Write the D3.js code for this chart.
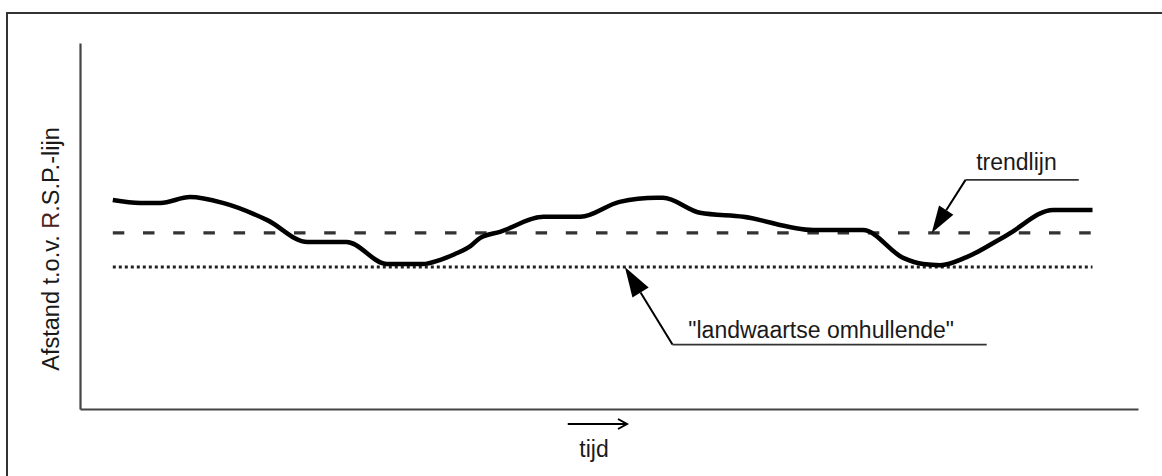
<!DOCTYPE html>
<html>
<head>
<meta charset="utf-8">
<script src="https://cdn.jsdelivr.net/npm/d3@7/dist/d3.min.js"></script>
<style>
  html, body { margin: 0; padding: 0; background: #fff; }
  svg { display: block; }
  text { font-family: "Liberation Sans", Arial, sans-serif; fill: #1a1a1a; }
</style>
</head>
<body>
<svg id="chart" width="1162" height="476"></svg>
<script>
// ---- data (time index 0..100, distance 0..100) ----
const timeValues = [3.1, 5.7, 7.6, 10.4, 13.5, 17.7, 21.5, 25.2, 29.0, 32.4, 34.0, 35.4, 36.9, 37.8, 39.7, 43.8, 47.3, 51.0, 54.5, 55.1, 58.6, 62.7, 69.3, 74.0, 77.8, 79.7, 81.3, 83.8, 87.6, 92.0, 95.7];
const distanceValues = [57.1, 56.3, 56.3, 57.9, 56.3, 51.6, 45.6, 45.6, 39.6, 39.6, 40.7, 42.3, 44.5, 46.7, 48.4, 52.5, 52.5, 56.6, 57.7, 57.7, 53.6, 52.5, 48.9, 48.9, 41.3, 39.6, 39.3, 41.5, 47.5, 54.4, 54.4];
const trendValue = 48.1;      // "trendlijn"
const envelopeValue = 38.8;   // "landwaartse omhullende"
const lineStart = 3.1, lineEnd = 95.7;
const yAxisLabel = ["Afstand t.o.v. ", "R", ".S.P.-lijn"];
const xAxisLabel = "tijd";
const trendLabel = "trendlijn";
const envelopeLabel = "\"landwaartse omhullende\"";
// annotation anchors in data units: [tip t, elbow t, elbow d, underline end t, text t, text d]
const trendNote = [80.5, 83.7, 62.6, 94.4, 84.7, 65.4];
const envelopeNote = [51.5, 56.0, 17.6, 85.7, 57.5, 19.4];

const svg = d3.select("#chart");
const x = d3.scaleLinear().domain([0, 100]).range([80, 1138]);
const y = d3.scaleLinear().domain([0, 100]).range([409, 43]);

// outer frame
svg.append("rect").attr("x", 7).attr("y", 13).attr("width", 1160).attr("height", 470)
  .attr("fill", "none").attr("stroke", "#333").attr("stroke-width", 2);

// axes
const g = svg.append("g");
const xAxis = d3.axisBottom(x).tickValues([]).tickSizeOuter(0);
const yAxis = d3.axisLeft(y).tickValues([]).tickSizeOuter(0);
g.append("g").attr("transform", `translate(0,${y(0)})`).call(xAxis)
  .call(s => s.select(".domain").attr("stroke", "#444").attr("stroke-width", 2.2));
g.append("g").attr("transform", `translate(${x(0)},0)`).call(yAxis)
  .call(s => s.select(".domain").attr("stroke", "#444").attr("stroke-width", 2.2));

// envelope (dotted)
svg.append("line").attr("x1", x(lineStart)).attr("x2", x(lineEnd))
  .attr("y1", y(envelopeValue)).attr("y2", y(envelopeValue))
  .attr("stroke", "#222").attr("stroke-width", 3).attr("stroke-dasharray", "3,3");

// trend (dashed)
svg.append("line").attr("x1", x(lineStart)).attr("x2", x(lineEnd))
  .attr("y1", y(trendValue)).attr("y2", y(trendValue))
  .attr("stroke", "#333").attr("stroke-width", 3.2).attr("stroke-dasharray", "11.5,18.7");

// data line
const pts = timeValues.map((t, i) => [t, distanceValues[i]]);
const line = d3.line().x(d => x(d[0])).y(d => y(d[1])).curve(d3.curveMonotoneX);
svg.append("path").datum(pts).attr("d", line).attr("fill", "none")
  .attr("stroke", "#000").attr("stroke-width", 4.5)
  .attr("stroke-linejoin", "round").attr("stroke-linecap", "butt");

// annotation helper
function annotate(note, tipValue, label, headLen, headHalf) {
  const tip = [x(note[0]), y(tipValue)];
  const elbow = [x(note[1]), y(note[2])];
  const endX = x(note[3]);
  const dx = tip[0] - elbow[0], dy = tip[1] - elbow[1];
  const L = Math.hypot(dx, dy), ux = dx / L, uy = dy / L;
  const bx = tip[0] - ux * headLen, by = tip[1] - uy * headLen;
  svg.append("line").attr("x1", elbow[0]).attr("y1", elbow[1]).attr("x2", endX).attr("y2", elbow[1])
    .attr("stroke", "#333").attr("stroke-width", 1.6);
  svg.append("line").attr("x1", elbow[0]).attr("y1", elbow[1]).attr("x2", bx).attr("y2", by)
    .attr("stroke", "#000").attr("stroke-width", 2);
  svg.append("polygon").attr("points", [
    tip, [bx - uy * headHalf, by + ux * headHalf], [bx + uy * headHalf, by - ux * headHalf]
  ].map(p => p.join(",")).join(" ")).attr("fill", "#000");
  svg.append("text").attr("x", x(note[4])).attr("y", y(note[5]))
    .attr("font-size", 23).text(label);
}
annotate(trendNote, trendValue, trendLabel, 27, 8.5);
annotate(envelopeNote, envelopeValue, envelopeLabel, 30, 9.5);

// y label
const yl = svg.append("text").attr("transform", `translate(58.5,249) rotate(-90)`)
  .attr("text-anchor", "middle").attr("font-size", 23.5);
yl.append("tspan").text(yAxisLabel[0]);
yl.append("tspan").style("fill", "#4a2222").text(yAxisLabel[1]);
yl.append("tspan").text(yAxisLabel[2]);

// time arrow + label
const ax0 = x(46.1), ax1 = x(51.7), ay = 424;
svg.append("line").attr("x1", ax0).attr("x2", ax1 - 1).attr("y1", ay).attr("y2", ay)
  .attr("stroke", "#000").attr("stroke-width", 2);
svg.append("path").attr("d", `M${ax1 - 9},${ay - 5} L${ax1},${ay} L${ax1 - 9},${ay + 5}`)
  .attr("fill", "none").attr("stroke", "#000").attr("stroke-width", 2);
svg.append("text").attr("x", 594).attr("y", 457).attr("text-anchor", "middle")
  .attr("font-size", 23).text(xAxisLabel);
</script>
</body>
</html>
